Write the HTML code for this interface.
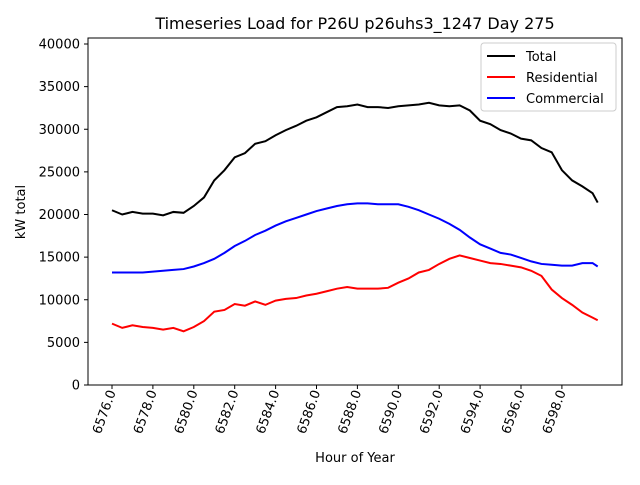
<!DOCTYPE html>
<html><head><meta charset="utf-8"><style>body{margin:0;background:#fff}svg{font-family:"DejaVu Sans","Liberation Sans",sans-serif}</style></head>
<body>
<svg id="c" width="640" height="480">
<text x="355" y="29" text-anchor="middle" font-size="16">Timeseries Load for P26U p26uhs3_1247  Day 275</text>
<text x="355" y="462" text-anchor="middle" font-size="13">Hour of Year</text>
<text transform="translate(25,212) rotate(-90)" text-anchor="middle" font-size="13">kW total</text>
<g id="ax"></g>
<rect x="88" y="38" width="534" height="347" fill="none" stroke="#000" stroke-width="1"/>
<g>
<rect x="481" y="43" width="135" height="68" fill="#fff" stroke="#ccc" rx="3"/>
<line x1="487" y1="56" x2="515" y2="56" stroke="#000" stroke-width="2"/><text x="526" y="61" font-size="13">Total</text>
<line x1="487" y1="77" x2="515" y2="77" stroke="red" stroke-width="2"/><text x="526" y="82" font-size="13">Residential</text>
<line x1="487" y1="98" x2="515" y2="98" stroke="blue" stroke-width="2"/><text x="526" y="103" font-size="13">Commercial</text>
</g>
</svg>
<script>
const startHour = 6576;
const xTicks = [6576,6578,6580,6582,6584,6586,6588,6590,6592,6594,6596,6598];
const yTicks = [0,5000,10000,15000,20000,25000,30000,35000,40000];
const total = [20500,20000,20300,20100,20100,19900,20300,20200,21000,22000,24000,25200,26700,27200,28300,28600,29300,29900,30400,31000,31400,32000,32600,32700,32900,32600,32600,32500,32700,32800,32900,33100,32800,32700,32800,32200,31000,30600,29900,29500,28900,28700,27800,27300,25200,24000,23300,22500,21400];
const residential = [7200,6700,7000,6800,6700,6500,6700,6300,6800,7500,8600,8800,9500,9300,9800,9400,9900,10100,10200,10500,10700,11000,11300,11500,11300,11300,11300,11400,12000,12500,13200,13500,14200,14800,15200,14900,14600,14300,14200,14000,13800,13400,12800,11200,10200,9400,8500,7900,7600];
const commercial = [13200,13200,13200,13200,13300,13400,13500,13600,13900,14300,14800,15500,16300,16900,17600,18100,18700,19200,19600,20000,20400,20700,21000,21200,21300,21300,21200,21200,21200,20900,20500,20000,19500,18900,18200,17300,16500,16000,15500,15300,14900,14500,14200,14100,14000,14000,14300,14300,13900];
const hours = total.map((_, i) => i < total.length - 1 ? startHour + i * 0.5 : startHour + (i - 1) * 0.5 + 0.25);
const X = h => 112 + (h - 6576) * 20.45;
const Y = v => 385 - v * 0.008525;
const NS = "http://www.w3.org/2000/svg";
const ax = document.getElementById('ax');
function mk(tag, attrs, parent){const e=document.createElementNS(NS,tag);for(const k in attrs)e.setAttribute(k,attrs[k]);(parent||ax).appendChild(e);return e;}
yTicks.forEach(v=>{
  const y=Y(v);
  const t=mk('line',{x1:84,x2:88,y1:y,y2:y,stroke:'#000'});
  
  
  const l=mk('text',{x:80,y:y+4.5,'text-anchor':'end','font-size':13});
  
  
  l.textContent=v;
});
xTicks.forEach(h=>{
  const x=X(h);
  const t=mk('line',{x1:x,x2:x,y1:385,y2:389,stroke:'#000'});
  
  
  const l=mk('text',{transform:`translate(${x+4},392) rotate(-70)`,'text-anchor':'end','font-size':13});
  
  
  l.textContent=h.toFixed(1);
});
[[total,'#000','total-line'],[residential,'red','residential-line'],[commercial,'blue','commercial-line']].forEach(([s,c,n])=>{
  const p=mk('polyline',{points:s.map((v,i)=>X(hours[i])+','+Y(v)).join(' '),fill:'none',stroke:c,'stroke-width':2});
  
  
});
</script>
</body></html>
